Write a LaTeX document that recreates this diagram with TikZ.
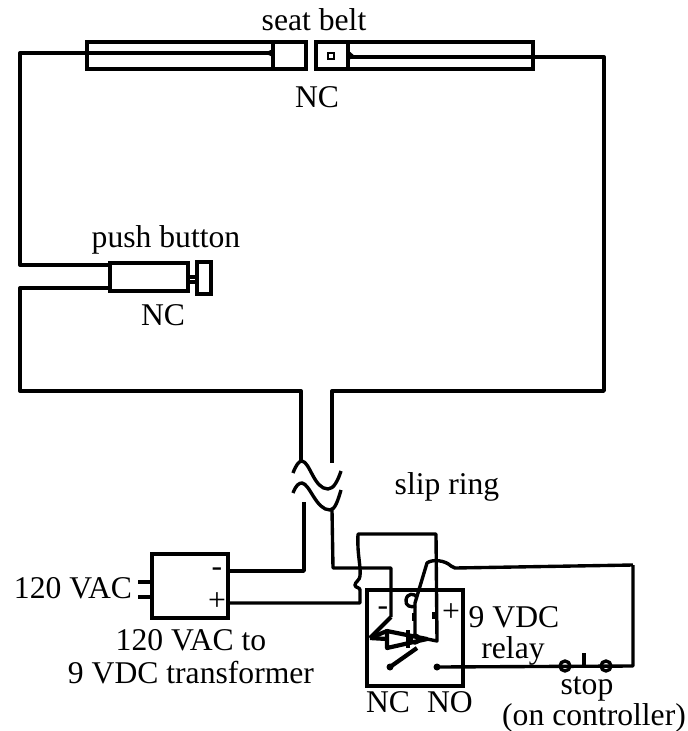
\documentclass[tikz,border=0pt]{standalone}
\usepackage{fontspec}
\setmainfont{Liberation Serif}
\usepackage{tikz}

\tikzset{
  wire/.style={line width=2.4pt,line join=round},
  heavy/.style={line width=3pt,line join=round},
  label/.style={inner sep=0pt,font=\fontsize{22.5}{24}\selectfont},
  part/.style={draw,line width=2.2pt,inner sep=0pt,rectangle}
}

\begin{document}
\begin{tikzpicture}[x=0.025cm,y=-0.025cm]
\useasboundingbox (0,0) rectangle (687,731);

\node [part,minimum width=5.475cm,minimum height=0.675cm] (beltl) at (196.5,55.5) {};
\node [part,minimum width=5.425cm,minimum height=0.675cm] (beltr) at (424.5,55.5) {};
\node [part,minimum width=1.95cm,minimum height=0.7cm] (button) at (149,277) {};
\node [part,minimum width=0.35cm,minimum height=0.8cm] (knob) at (204,278) {};
\node [part,minimum width=1.9cm,minimum height=1.6cm] (transformer) at (190,586) {};
\node [part,minimum width=2.4cm,minimum height=2.4cm] (relay) at (415,638) {};

\coordinate (tongue) at (273,53);
\coordinate (buckle) at (348,57);
\coordinate (beltre) at (533,57);
\coordinate (buttona) at (110,265);
\coordinate (buttonb) at (110,288);
\coordinate (cornera) at (20,53);
\coordinate (cornerj) at (20,265);
\coordinate (cornerb) at (20,288);
\coordinate (cornerc) at (20,391);
\coordinate (cornerd) at (301,391);
\coordinate (breaka) at (301,462);
\coordinate (cornere) at (604,57);
\coordinate (cornerf) at (604,391);
\coordinate (cornerg) at (332,391);
\coordinate (breakb) at (332,463);
\coordinate (breakc) at (304,502);
\coordinate (breakd) at (332,510);
\coordinate (minusout) at (228,571);
\coordinate (plusout) at (228,603);
\coordinate (pin) at (391,617);
\coordinate (armend) at (370,638);
\coordinate (coiltop) at (437,641);
\coordinate (contactnc) at (390,667);
\coordinate (contactno) at (437,667);
\coordinate (stopa) at (565,666);
\coordinate (stopb) at (606,666);
\coordinate (cornerh) at (633,666);
\coordinate (corneri) at (633,565);

\draw[wire] (tongue) -- (cornera) -- (cornerj) -- (buttona);
\draw[wire] (buttonb) -- (cornerb) -- (cornerc) -- (cornerd) -- (breaka);
\draw[wire] (buckle) -- (beltre) -- (cornere) -- (cornerf) -- (cornerg) -- (breakb);

% seat belt
\draw[heavy] (273,43) -- (273,68);
\fill (273,49) -- (273,57) -- (264,53) -- cycle;
\draw[wire] (348,43) -- (348,68);
\fill (348,50) -- (348,60) -- (356,57) -- cycle;
\draw[line width=1.9pt] (328,53) rectangle (334,59);

% push button
\draw[wire] (188,277) -- (knob.west |- 0,277);
\draw[wire] (188,282) -- (knob.west |- 0,282);

% break in the cable
\draw[wire] (293,473) .. controls (296,465) and (299,461) .. (302,461) .. controls (310,462) and (314,489) .. (328,489) .. controls (334,489) and (338,480) .. (341,471);
\draw[wire] (293,493) .. controls (296,485) and (299,483) .. (302,483) .. controls (310,484) and (316,510) .. (330,510) .. controls (335,510) and (338,500) .. (341,490);

% transformer
\draw[wire] (breakc) -- (304,571) -- (minusout);
\draw[wire] (plusout) -- (360,603) -- (360,590) .. controls (360,587) and (355,588) .. (355,585) .. controls (355,582) and (360,580) .. (360,576) .. controls (361,565) and (357,555) .. (358,534) -- (436,534) -- (coiltop) -- (427,639);
\draw[wire] (138,582) -- (152,582);
\draw[wire] (138,597) -- (152,597);

% relay
\draw[wire] (breakd) -- (333,568) -- (391,568) -- (pin);
\draw[heavy] (pin) -- (armend);
\draw[heavy] (armend) -- (387,631);
\draw[heavy] (armend) -- (387,639);
\draw[heavy] (387,631) -- (387,648) -- (427,639) -- cycle;
\draw[wire] (408,630) -- (408,648);
\draw[wire] (415,639) circle (4);
\draw[heavy] (contactnc) -- (417,648);
\draw[wire] (415,635) -- (415,603) -- (427,563) .. controls (432,559) and (445,560) .. (451,566) -- (455,568) -- (corneri);
\draw[wire] (417,597) .. controls (414,593) and (407,593) .. (406,600) .. controls (405,606) and (411,608) .. (416,606);
\draw[heavy] (414,613) -- (414,621);
\draw[heavy] (434,612) -- (434,619);
\fill (contactnc) circle (3.5);
\fill (contactno) circle (3.5);

% stop
\draw[wire] (contactno) -- (cornerh) -- (corneri);
\draw[wire] (stopa) ++(5,0) arc (0:180:5);
\draw[wire] (stopa) ++(5,0) arc (0:-180:5);
\draw[wire] (stopb) ++(5,0) arc (0:180:5);
\draw[wire] (stopb) ++(5,0) arc (0:-180:5);
\draw[wire] (584,653) -- (584,666);

\node [label] (beltname) at (314,20) {seat belt};
\node [label] (beltnc) at (317,97) {NC};
\node [label] (buttonname) at (166,240) {push button};
\node [label] (buttonnc) at (163,315) {NC};
\node [label] (slipname) at (447,487) {slip ring};
\node [label] (acname) at (73,588) {120 VAC};
\node [label] (minusname) at (217,572) {-};
\node [label] (plusname) at (217,602) {+};
\node [label] (tfa) at (191,640) {120 VAC to};
\node [label] (tfb) at (191,673) {9 VDC transformer};
\node [label] (relayminus) at (383,611) {-};
\node [label] (relayplus) at (451,613) {+};
\node [label] (vdc) at (514,617) {9 VDC};
\node [label] (relayname) at (513,651) {relay};
\node [label] (relaync) at (388,702) {NC};
\node [label] (relayno) at (450,702) {NO};
\node [label] (stopname) at (587,689) {stop};
\node [label] (ctrlname) at (594,718) {(on controller)};

\end{tikzpicture}
\end{document}
